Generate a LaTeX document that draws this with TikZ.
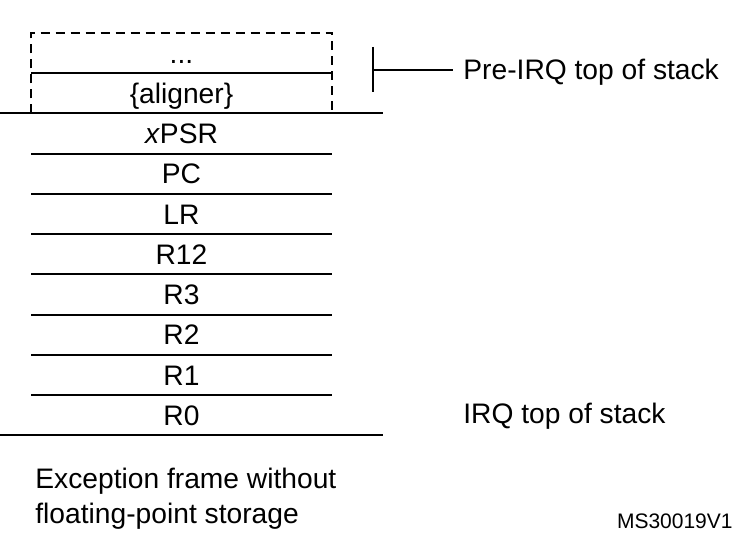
\documentclass[tikz,border=0pt]{standalone}
\usepackage{fontspec}
\setmainfont{Liberation Sans}
\usetikzlibrary{positioning}
\newcommand{\mainsize}{\fontsize{14.1}{17.5}\selectfont}
\tikzset{
  cell/.style={minimum width=150.5pt, minimum height=20.125pt, inner sep=0pt,
    outer sep=0pt, text height=10.1pt, text depth=0pt, font=\mainsize},
  rule/.style={line width=0.9pt},
  dashrule/.style={rule, dash pattern=on 4.5pt off 3pt},
  note/.style={anchor=base west, inner sep=0pt, font=\mainsize}
}

\begin{document}
\begin{tikzpicture}[x=0.5pt, y=-0.5pt]
    \useasboundingbox (0,0) rectangle (740,534);
    % stack frame
    \node[cell] (dots) at (181.5,53) {...};
    \node[cell, below=0pt of dots] (aligner) {\{aligner\}};
    \node[cell, below=0pt of aligner] (xpsr) {\textit{x}PSR};
    \node[cell, below=0pt of xpsr] (pc) {PC};
    \node[cell, below=0pt of pc] (lr) {LR};
    \node[cell, below=0pt of lr] (r12) {R12};
    \node[cell, below=0pt of r12] (r3) {R3};
    \node[cell, below=0pt of r3] (r2) {R2};
    \node[cell, below=0pt of r2] (r1) {R1};
    \node[cell, below=0pt of r1] (r0) {R0};
    \coordinate (edgeL) at (0,0);
    \coordinate (edgeR) at (383,0);
    \draw[dashrule] (aligner.south west) -- (dots.north west) -- (dots.north east) -- (aligner.south east);
    \draw[rule] (dots.south west) -- (dots.south east);
    \draw[rule] (aligner.south west -| edgeL) -- (aligner.south east -| edgeR);
    \draw[rule] (xpsr.south west) -- (xpsr.south east);
    \draw[rule] (pc.south west) -- (pc.south east);
    \draw[rule] (lr.south west) -- (lr.south east);
    \draw[rule] (r12.south west) -- (r12.south east);
    \draw[rule] (r3.south west) -- (r3.south east);
    \draw[rule] (r2.south west) -- (r2.south east);
    \draw[rule] (r1.south west) -- (r1.south east);
    \draw[rule] (r0.south west -| edgeL) -- (r0.south east -| edgeR);
    % stack pointers
    \coordinate (brtop) at (373,47);
    \coordinate (brmid) at (373,70);
    \coordinate (brbot) at (373,92);
    \node[note] (pretos) at (463,80) {Pre-IRQ top of stack};
    \node[note] (irqtos) at (463,424) {IRQ top of stack};
    \draw[rule] (brtop) -- (brbot);
    \draw[rule] (brmid) -- ([xshift=-5pt]pretos.west |- brmid);
    % captions
    \node[anchor=north west, inner sep=0pt, align=left, font=\mainsize] (caption) at (35,468)
      {Exception frame without\\floating-point storage};
    \node[anchor=east, inner sep=0pt, font=\fontsize{10.5}{12}\selectfont] (figid) at (733,521) {MS30019V1};
\end{tikzpicture}
\end{document}
